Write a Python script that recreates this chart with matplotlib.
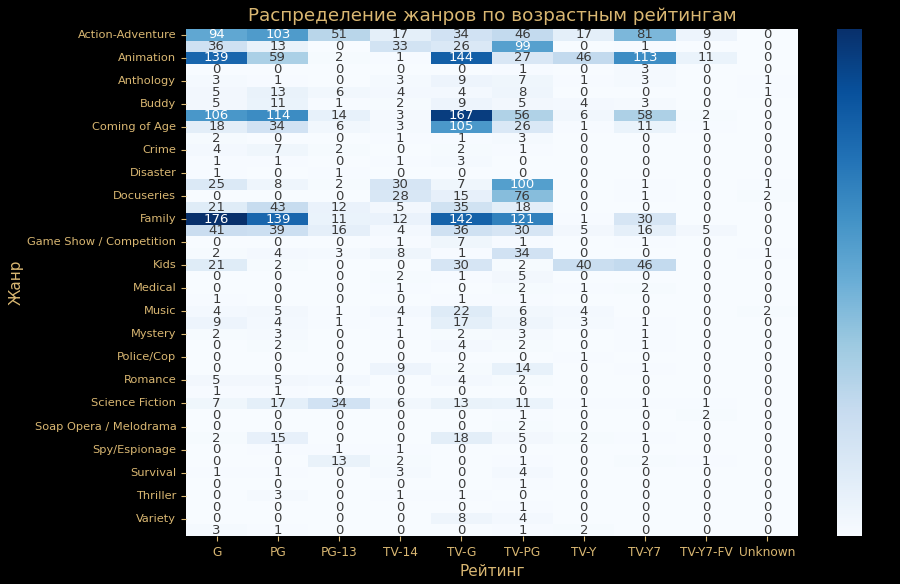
import numpy as np
import pandas as pd
import matplotlib
matplotlib.use("Agg")
import matplotlib.pyplot as plt
import seaborn as sns

ratings = ["G", "PG", "PG-13", "TV-14", "TV-G", "TV-PG", "TV-Y", "TV-Y7", "TV-Y7-FV", "Unknown"]

genres = [
    "Action-Adventure", "Adult Animation", "Animation", "Anime", "Anthology",
    "Biographical", "Buddy", "Comedy", "Coming of Age", "Concert Film",
    "Crime", "Dance", "Disaster", "Documentary", "Docuseries",
    "Drama", "Family", "Fantasy", "Game Show / Competition", "Historical",
    "Kids", "Lifestyle", "Medical", "Military", "Music",
    "Musical", "Mystery", "Parody", "Police/Cop", "Reality",
    "Romance", "Romantic Comedy", "Science Fiction", "Sitcom", "Soap Opera / Melodrama",
    "Sports", "Spy/Espionage", "Superhero", "Survival", "Talk Show",
    "Thriller", "Travel", "Variety", "Western",
]

counts = [
    [94, 103, 51, 17, 34, 46, 17, 81, 9, 0],
    [36, 13, 0, 33, 26, 99, 0, 1, 0, 0],
    [139, 59, 2, 1, 144, 27, 46, 113, 11, 0],
    [0, 0, 0, 0, 0, 1, 0, 3, 0, 0],
    [3, 1, 0, 3, 9, 7, 1, 3, 0, 1],
    [5, 13, 6, 4, 4, 8, 0, 0, 0, 1],
    [5, 11, 1, 2, 9, 5, 4, 3, 0, 0],
    [106, 114, 14, 3, 167, 56, 6, 58, 2, 0],
    [18, 34, 6, 3, 105, 26, 1, 11, 1, 0],
    [2, 0, 0, 1, 1, 3, 0, 0, 0, 0],
    [4, 7, 2, 0, 2, 1, 0, 0, 0, 0],
    [1, 1, 0, 1, 3, 0, 0, 0, 0, 0],
    [1, 0, 1, 0, 0, 0, 0, 0, 0, 0],
    [25, 8, 2, 30, 7, 100, 0, 1, 0, 1],
    [0, 0, 0, 28, 15, 76, 0, 1, 0, 2],
    [21, 43, 12, 5, 35, 18, 0, 0, 0, 0],
    [176, 139, 11, 12, 142, 121, 1, 30, 0, 0],
    [41, 39, 16, 4, 36, 30, 5, 16, 5, 0],
    [0, 0, 0, 1, 7, 1, 0, 1, 0, 0],
    [2, 4, 3, 8, 1, 34, 0, 0, 0, 1],
    [21, 2, 0, 0, 30, 2, 40, 46, 0, 0],
    [0, 0, 0, 2, 1, 5, 0, 0, 0, 0],
    [0, 0, 0, 1, 0, 2, 1, 2, 0, 0],
    [1, 0, 0, 0, 1, 1, 0, 0, 0, 0],
    [4, 5, 1, 4, 22, 6, 4, 0, 0, 2],
    [9, 4, 1, 1, 17, 8, 3, 1, 0, 0],
    [2, 3, 0, 1, 2, 3, 0, 1, 0, 0],
    [0, 2, 0, 0, 4, 2, 0, 1, 0, 0],
    [0, 0, 0, 0, 0, 0, 1, 0, 0, 0],
    [0, 0, 0, 9, 2, 14, 0, 1, 0, 0],
    [5, 5, 4, 0, 4, 2, 0, 0, 0, 0],
    [1, 1, 0, 0, 0, 0, 0, 0, 0, 0],
    [7, 17, 34, 6, 13, 11, 1, 1, 1, 0],
    [0, 0, 0, 0, 0, 1, 0, 0, 2, 0],
    [0, 0, 0, 0, 0, 2, 0, 0, 0, 0],
    [2, 15, 0, 0, 18, 5, 2, 1, 0, 0],
    [0, 1, 1, 1, 0, 0, 0, 0, 0, 0],
    [0, 0, 13, 2, 0, 1, 0, 2, 1, 0],
    [1, 1, 0, 3, 0, 4, 0, 0, 0, 0],
    [0, 0, 0, 0, 0, 1, 0, 0, 0, 0],
    [0, 3, 0, 1, 1, 0, 0, 0, 0, 0],
    [0, 0, 0, 0, 0, 1, 0, 0, 0, 0],
    [0, 0, 0, 0, 8, 4, 0, 0, 0, 0],
    [3, 1, 0, 0, 0, 1, 2, 0, 0, 0],
]

gold = "#d9b772"

df = pd.DataFrame(counts, index=genres, columns=ratings)

fig = plt.figure(figsize=(9, 5.84), dpi=100, facecolor="black")
ax = fig.add_axes([186 / 900, 48 / 584, 612 / 900, 507 / 584])
cax = fig.add_axes([837 / 900, 48 / 584, 25 / 900, 507 / 584])

sns.heatmap(df, annot=True, fmt="d", cmap="Blues", ax=ax, cbar_ax=cax,
            annot_kws={"fontsize": 9.5}, yticklabels=2)

# slightly lighter grey text on pale cells
for t in ax.texts:
    if t.get_color() == ".15":
        t.set_color("#3a3a3a")

ax.set_facecolor("black")
ax.set_title("Распределение жанров по возрастным рейтингам", color=gold, fontsize=13.2)
ax.set_xlabel("Рейтинг", color=gold, fontsize=11)
ax.set_ylabel("Жанр", color=gold, fontsize=11)
ax.yaxis.set_label_coords(-162 / 612, 0.5)
ax.tick_params(colors=gold)
ax.tick_params(axis="x", rotation=0, labelsize=8.7)
ax.tick_params(axis="y", rotation=0, labelsize=8.2)
cax.tick_params(colors="black")

fig.savefig("out.png", dpi=100, facecolor="black")
